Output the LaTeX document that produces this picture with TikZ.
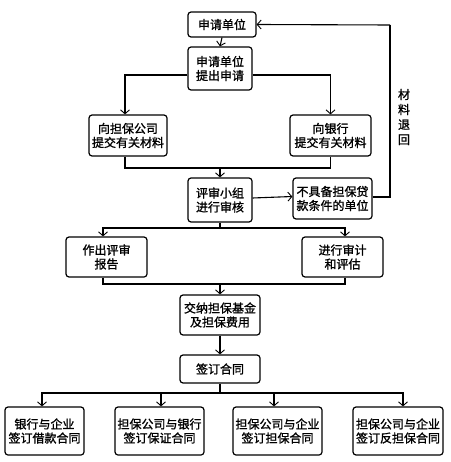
\documentclass[tikz,border=0pt]{standalone}
\usepackage{fontspec}
\setmainfont{Noto Sans CJK SC}[FakeBold=1.2]
\usetikzlibrary{arrows.meta}
\begin{document}
\begin{tikzpicture}[x=1pt,y=-1pt,
  box/.style={draw,rounded corners=3pt,line width=1.2pt,align=center,inner sep=0pt,
    font=\fontsize{12}{14}\selectfont},
  ln/.style={line width=1.1pt},
  arr/.style={ln,-{Straight Barb[length=4pt,width=9pt,line width=0.9pt]}}]
\useasboundingbox (0,0) rectangle (450,462);
\fill[white] (0,0) rectangle (450,462);
\node[box,minimum width=68pt,minimum height=25pt] (n1) at (222,24.5) {申请单位};
\node[box,minimum width=64pt,minimum height=43pt] (n2) at (220,68.5) {申请单位\\提出申请};
\node[box,minimum width=78pt,minimum height=41pt] (n3) at (128,135.5) {向担保公司\\提交有关材料};
\node[box,minimum width=81pt,minimum height=41pt] (n4) at (330.5,135.5) {向银行\\提交有关材料};
\node[box,minimum width=64pt,minimum height=44pt] (n5) at (220,200) {评审小组\\进行审核};
\node[box,minimum width=79pt,minimum height=41pt] (n6) at (332.5,198.5) {不具备担保贷\\款条件的单位};
\node[box,minimum width=81pt,minimum height=40pt] (n7) at (106.5,257) {作出评审\\报告};
\node[box,minimum width=81pt,minimum height=40pt] (n8) at (342.5,257) {进行审计\\和评估};
\node[box,minimum width=80pt,minimum height=40pt] (n9) at (220,315) {交纳担保基金\\及担保费用};
\node[box,minimum width=80pt,minimum height=28pt] (n10) at (220,369) {签订合同};
\node[box,minimum width=79pt,minimum height=48pt] (n11) at (44.5,431) {银行与企业\\签订借款合同};
\node[box,minimum width=89pt,minimum height=48pt] (n12) at (159.5,431) {担保公司与银行\\签订保证合同};
\node[box,minimum width=89pt,minimum height=48pt] (n13) at (277.5,431) {担保公司与企业\\签订担保合同};
\node[box,minimum width=90pt,minimum height=48pt] (n14) at (398,431) {担保公司与企业\\签订反担保合同};
\node[font=\fontsize{12}{15}\selectfont,align=center,inner sep=0pt] (lbl) at (404,117) {材\\料\\退\\回};
\coordinate (j1) at (220,168);
\coordinate (j2) at (220,228);
\coordinate (j3) at (220,284);
\coordinate (j4) at (220,393);
\coordinate (r1) at (390,25);
\draw[arr] (n1.south) -- (n2.north);
\draw[arr] ([yshift=-6.5pt]n2.west) -| ([xshift=-3pt]n3.north);
\draw[arr] ([yshift=-6.5pt]n2.east) -| (n4.north);
\draw[ln] ([xshift=-3pt]n3.south) |- (j1) -| (n4.south);
\draw[arr] (j1) -- (n5.north);
\draw[arr] ([yshift=2pt]n5.east) -- ([yshift=2pt]n6.west);
\draw[ln] ([yshift=1.5pt]n6.east) -| (r1);
\draw[arr] (r1) -- (n1.east);
\draw[ln] (n5.south) -- (j2);
\draw[arr] (j2) -| ([xshift=-3.5pt]n7.north);
\draw[arr] (j2) -| ([xshift=2.5pt]n8.north);
\draw[ln] ([xshift=-3.5pt]n7.south) |- (j3) -| ([xshift=2.5pt]n8.south);
\draw[arr] (j3) -- (n9.north);
\draw[arr] (n9.south) -- (n10.north);
\draw[ln] (n10.south) -- (j4);
\draw[arr] (j4) -| ([xshift=-2.5pt]n11.north);
\draw[arr] (j4) -| ([xshift=1.5pt]n12.north);
\draw[arr] (j4) -| ([xshift=-3.5pt]n13.north);
\draw[arr] (j4) -| ([xshift=5pt]n14.north);
\end{tikzpicture}
\end{document}
